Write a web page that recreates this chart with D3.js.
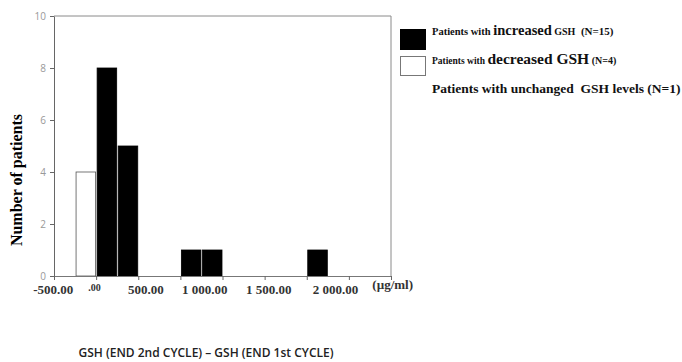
<!DOCTYPE html>
<html>
<head>
<meta charset="utf-8">
<script src="https://cdn.jsdelivr.net/npm/d3@7"></script>
<style>
  body { margin: 0; background: #fff; }
  svg { display: block; }
  .serif { font-family: "Liberation Serif", "DejaVu Serif", serif; font-weight: bold; }
</style>
</head>
<body>
<div id="chart"></div>
<script>
// bins of 250 µg/ml, start value of each bin
const binStart = [-250, 0, 250, 1000, 1250, 2500];
const counts = [4, 8, 5, 1, 1, 1];
const group = ["decreased", "increased", "increased", "increased", "increased", "increased"];
const binWidth = 250;

const xTicks = [-500, 0, 500, 1000, 1500, 2000, 2500, 3000, 3500];
const xLabels = ["-500.00", ".00", "500.00", "1 000.00", "1 500.00", "2 000.00", "(µg/ml)"];
const xLabelAt = [-510, -20, 590, 1290, 2050, 2840, 3520];
const yTicks = [0, 2, 4, 6, 8, 10];

function drawChart(container){
    const width = 682, height = 362,
          margin = {top: 16, right: 291, bottom: 86, left: 54},
          innerWidth = width - margin.left - margin.right,
          innerHeight = height - margin.top - margin.bottom;

    const svg = d3.select(container).append('svg')
        .attr('width', width)
        .attr('height', height);

    const viz = svg.append('g')
        .attr('transform', `translate(${margin.left},${margin.top})`);

    const x = d3.scaleLinear().domain([-500, 3500]).range([0, innerWidth]);
    const y = d3.scaleLinear().domain([0, 10]).range([innerHeight, 0]);

    // frame: top and right
    viz.append('path')
        .attr('d', `M0,0H${innerWidth}V${innerHeight}`)
        .attr('fill', 'none')
        .attr('stroke', '#8a8a8a')
        .attr('stroke-width', 1);

    // bars
    viz.append('g').selectAll('rect')
        .data(binStart.map((s, i) => ({s, c: counts[i], g: group[i]})))
        .enter().append('rect')
        .attr('x', d => x(d.s) + 1)
        .attr('width', d => x(d.s + binWidth) - x(d.s) - 1.5)
        .attr('y', d => y(d.c))
        .attr('height', d => y(0) - y(d.c))
        .attr('fill', d => d.g === 'increased' ? '#000' : '#fff')
        .attr('stroke', d => d.g === 'increased' ? '#000' : '#555')
        .attr('stroke-width', 0.8);

    // y axis
    const yAxis = viz.append('g')
        .call(d3.axisLeft(y).tickValues(yTicks).tickSize(4).tickSizeOuter(0).tickFormat(d3.format('d')));
    yAxis.select('.domain').attr('stroke', '#666');
    yAxis.selectAll('.tick line').attr('stroke', '#666');
    yAxis.selectAll('.tick text')
        .attr('fill', '#999')
        .attr('x', -8)
        .style('font-family', '"Open Sans", sans-serif')
        .style('font-size', '10px');

    // x axis
    const xAxis = viz.append('g')
        .attr('transform', `translate(0,${innerHeight})`)
        .call(d3.axisBottom(x).tickValues(xTicks).tickSize(4).tickSizeOuter(0).tickFormat(''));
    xAxis.select('.domain').attr('stroke', '#777');
    xAxis.selectAll('.tick line').attr('stroke', '#666');

    viz.append('g').selectAll('text')
        .data(xLabels)
        .enter().append('text')
        .attr('class', 'serif')
        .attr('x', (d, i) => x(xLabelAt[i]))
        .attr('y', (d, i) => innerHeight + (d === '.00' ? 15 : d[0] === '(' ? 13 : 18))
        .attr('text-anchor', 'middle')
        .style('font-size', d => d === '.00' ? '10px' : '13px')
        .attr('fill', '#333')
        .text(d => d);

    // y label
    svg.append('text')
        .attr('class', 'serif')
        .attr('transform', 'translate(22,180) rotate(-90)')
        .attr('text-anchor', 'middle')
        .style('font-size', '16px')
        .text('Number of patients');

    // x title
    svg.append('text')
        .attr('x', 206)
        .attr('y', 357)
        .attr('text-anchor', 'middle')
        .style('font-family', '"Open Sans", sans-serif')
        .style('font-weight', '600')
        .style('font-size', '12px')
        .attr('fill', '#222')
        .text('GSH (END 2nd CYCLE) – GSH (END 1st CYCLE)');

    // legend
    const lg = svg.append('g');
    lg.append('rect').attr('x', 400).attr('y', 29).attr('width', 26).attr('height', 21).attr('fill', '#000');
    lg.append('rect').attr('x', 400.5).attr('y', 56.5).attr('width', 25).attr('height', 19)
        .attr('fill', '#fff').attr('stroke', '#777');

    const lines = [
        {y: 35, parts: [["Patients with ", 10.5], ["increased", 14.5], [" GSH", 10], ["  (N=15)", 11]]},
        {y: 64, parts: [["Patients with ", 9.5], ["decreased GSH", 15.5], [" (N=4)", 10]]},
        {y: 93, parts: [["Patients with unchanged  GSH levels (N=1)", 13.5]]}
    ];
    lines.forEach(l => {
        const t = lg.append('text').attr('class', 'serif').attr('x', 432).attr('y', l.y)
            .attr('fill', '#111').style('white-space', 'pre');
        l.parts.forEach(p => t.append('tspan').style('font-size', p[1] + 'px').text(p[0]));
    });
}

drawChart('#chart');
</script>
</body>
</html>
